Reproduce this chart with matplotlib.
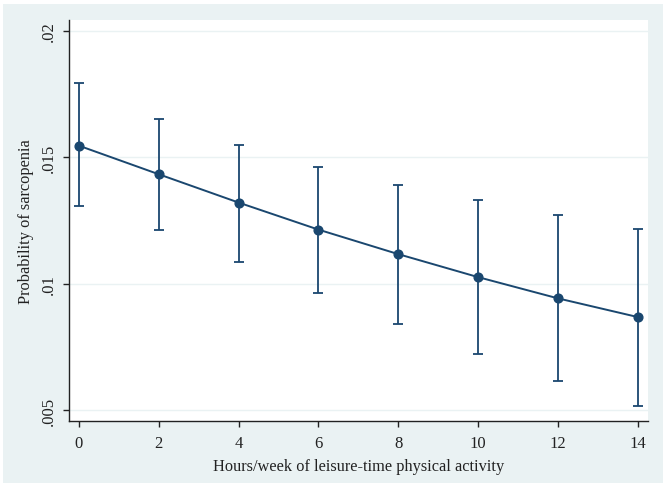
import matplotlib
matplotlib.use("Agg")
import matplotlib.pyplot as plt
from matplotlib.patches import Rectangle

hours = [0, 2, 4, 6, 8, 10, 12, 14]
prob = [0.01546, 0.01433, 0.01321, 0.01214, 0.01117, 0.01026, 0.00942, 0.00868]
ci_upper = [0.01793, 0.01653, 0.01547, 0.01463, 0.01391, 0.01330, 0.01273, 0.01216]
ci_lower = [0.01306, 0.01211, 0.01087, 0.00963, 0.00839, 0.00723, 0.00614, 0.00514]
yticks = [0.005, 0.01, 0.015, 0.02]
ytick_labels = [".005", ".01", ".015", ".02"]
xticks = [0, 2, 4, 6, 8, 10, 12, 14]

plt.rcParams['font.family'] = ['Liberation Serif', 'DejaVu Serif']
navy = '#1A476F'
bg = '#EAF2F3'

fig = plt.figure(figsize=(6.69, 4.89), dpi=100)
fig.patch.set_facecolor('white')
fig.add_artist(Rectangle((3/669, 5/489), 660/669, 479/489, transform=fig.transFigure,
                         facecolor=bg, edgecolor='none', zorder=-10))
ax = fig.add_axes([69/669, 67/489, 579/669, 401/489])
ax.set_zorder(1)
ax.set_facecolor('white')

yerr = [[p - l for p, l in zip(prob, ci_lower)], [u - p for p, u in zip(prob, ci_upper)]]
ax.errorbar(hours, prob, yerr=yerr, fmt='none', ecolor=navy, elinewidth=1.3,
            capsize=3.8, capthick=1.3, zorder=3)
ax.plot(hours, prob, color=navy, lw=1.4, marker='o', ms=6.3, zorder=4)

ax.set_xlim(-0.25, 14.26)
ax.set_ylim(0.004565, 0.020435)
ax.set_yticks(yticks)
ax.set_yticklabels(ytick_labels, rotation=90, va='center')
ax.set_xticks(xticks)
ax.grid(axis='y', color=bg, lw=1.0)
ax.set_axisbelow(True)
for s in ['top', 'right']:
    ax.spines[s].set_visible(False)
for s in ['left', 'bottom']:
    ax.spines[s].set_color('#222222')
    ax.spines[s].set_linewidth(1.0)
ax.tick_params(axis='both', direction='out', length=4, width=1, color='#222222',
               labelsize=12, labelcolor='#222222')
ax.tick_params(axis='x', pad=6)
ax.tick_params(axis='y', pad=5)
ax.set_xlabel("Hours/week of leisure-time physical activity", fontsize=11.8, color='#222222', labelpad=5)
ax.set_ylabel("Probability of sarcopenia", fontsize=11.8, color='#222222', labelpad=5)

fig.savefig("out.png", dpi=100, facecolor=fig.get_facecolor())
